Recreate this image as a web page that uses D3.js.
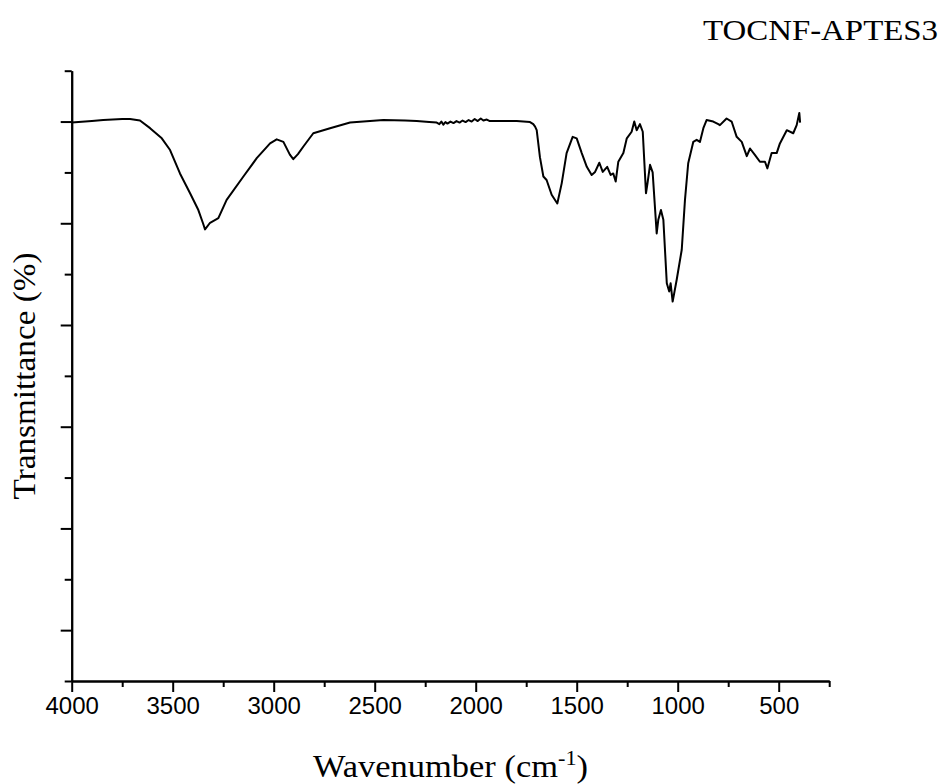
<!DOCTYPE html>
<html>
<head>
<meta charset="utf-8">
<script src="https://cdn.jsdelivr.net/npm/d3@7"></script>
<style>
  body { margin: 0; background: #fff; }
  svg { display: block; }
</style>
</head>
<body>
<svg id="chart" width="941" height="784"></svg>
<script>
// FTIR spectrum
const wavenumber = [4000, 3900, 3844, 3750, 3711, 3662, 3612, 3554, 3513, 3464, 3414, 3373, 3350, 3340, 3315, 3274, 3233, 3150, 3084, 3018,
  2985, 2952, 2920, 2903, 2880, 2853, 2804, 2721, 2622, 2457, 2350, 2292, 2230, 2193, 2180, 2170, 2160, 2150, 2140, 2125,
  2110, 2095, 2080, 2065, 2050, 2035, 2020, 2005, 1990, 1975, 1962, 1945, 1930, 1880, 1797, 1731, 1715, 1706, 1698, 1682,
  1665, 1649, 1624, 1596, 1574, 1550, 1520, 1500, 1475, 1450, 1426, 1409, 1388, 1371, 1349, 1332, 1319, 1307, 1294, 1269,
  1252, 1228, 1215, 1203, 1187, 1173, 1157, 1149, 1137, 1124, 1104, 1096, 1083, 1071, 1054, 1042, 1035, 1025, 1005, 980,
  964, 948, 923, 906, 890, 873, 857, 824, 799, 791, 758, 733, 708, 683, 658, 642, 617, 593, 568, 556,
  535, 510, 494, 460, 428, 411, 398, 394];
const transmittance = [99.8, 100.1, 100.3, 100.5, 100.5, 100.2, 98.7, 96.7, 94.4, 89.8, 85.9, 82.6, 80.0, 78.8, 80.1, 81.0, 84.6, 89.2, 92.8, 95.7,
  96.5, 96.0, 93.5, 92.6, 93.6, 95.1, 97.7, 98.7, 99.8, 100.3, 100.2, 100.1, 99.9, 99.8, 99.5, 100.0, 99.4, 99.9, 99.6, 100.0,
  99.7, 100.1, 99.8, 100.2, 99.9, 100.3, 100.0, 100.5, 100.1, 100.6, 100.2, 100.4, 100.1, 100.1, 100.1, 99.9, 99.5, 99.0, 98.3, 93.0,
  89.2, 88.5, 85.6, 83.9, 87.9, 93.8, 97.0, 96.7, 93.8, 91.1, 89.5, 90.1, 91.9, 90.1, 91.1, 89.5, 89.8, 88.2, 92.1, 93.8,
  96.7, 98.0, 100.0, 98.3, 99.5, 98.0, 85.9, 88.0, 91.5, 90.0, 78.0, 80.7, 82.6, 80.7, 68.2, 66.6, 68.2, 64.6, 68.9, 74.8,
  84.6, 91.8, 96.0, 96.4, 96.0, 98.7, 100.3, 100.0, 99.5, 99.3, 100.6, 100.0, 97.0, 96.0, 93.2, 94.7, 93.4, 92.1, 92.1, 90.8,
  93.8, 93.8, 95.7, 98.3, 97.7, 99.3, 101.7, 99.8];

const xMajorTicks = [4000, 3500, 3000, 2500, 2000, 1500, 1000, 500];
const xMinorTicks = [3750, 3250, 2750, 2250, 1750, 1250, 750, 250];
const yMajorTicks = [0, 20, 40, 60, 80, 100];
const yMinorTicks = [-10, 10, 30, 50, 70, 90, 110];

const title = "TOCNF-APTES3";

const svg = d3.select("#chart");
const plotLeft = 71.7, plotRight = 829.2, plotTop = 70.7, plotBottom = 681;

const x = d3.scaleLinear().domain([4000, 250]).range([plotLeft, plotRight]);
const y = d3.scaleLinear().domain([-10, 110]).range([plotBottom, plotTop]);

const serif = "'Liberation Serif', 'Times New Roman', serif";
const sans = "'Liberation Sans', Arial, sans-serif";

// x axis: major ticks with labels, then minor ticks
const xAxis = svg.append("g")
  .attr("transform", `translate(0,${plotBottom})`)
  .call(d3.axisBottom(x).tickValues(xMajorTicks).tickSize(11).tickSizeOuter(0).tickPadding(5).tickFormat(d3.format("d")));
svg.append("g")
  .attr("transform", `translate(0,${plotBottom})`)
  .call(d3.axisBottom(x).tickValues(xMinorTicks).tickSize(6).tickSizeOuter(0).tickFormat(""));

// y axis: no labels
svg.append("g")
  .attr("transform", `translate(${plotLeft},0)`)
  .call(d3.axisLeft(y).tickValues(yMajorTicks).tickSize(11).tickSizeOuter(0).tickFormat(""));
svg.append("g")
  .attr("transform", `translate(${plotLeft},0)`)
  .call(d3.axisLeft(y).tickValues(yMinorTicks).tickSize(7).tickSizeOuter(0).tickFormat(""));

svg.selectAll(".domain, .tick line").attr("stroke", "#000").attr("stroke-width", 2);
xAxis.selectAll(".tick text")
  .style("font-family", sans)
  .style("font-size", "24px")
  .attr("fill", "#000");

// spectrum
const points = wavenumber.map((w, i) => [w, transmittance[i]]);
const line = d3.line().x(d => x(d[0])).y(d => y(d[1]));
svg.append("path")
  .datum(points)
  .attr("d", line)
  .attr("fill", "none")
  .attr("stroke", "#000")
  .attr("stroke-width", 2)
  .attr("stroke-linejoin", "round");

// titles (Palatino-like widths, so stretched to the reference lengths)
svg.append("text")
  .attr("x", 938).attr("y", 40)
  .attr("text-anchor", "end")
  .attr("textLength", 235)
  .attr("lengthAdjust", "spacingAndGlyphs")
  .style("font-family", serif)
  .style("font-size", "30px")
  .text(title);

const xLabel = svg.append("text")
  .attr("x", 313).attr("y", 777)
  .attr("textLength", 275)
  .attr("lengthAdjust", "spacingAndGlyphs")
  .style("font-family", serif)
  .style("font-size", "31px");
xLabel.append("tspan").text("Wavenumber (cm");
xLabel.append("tspan").attr("dy", -12).style("font-size", "20px").text("-1");
xLabel.append("tspan").attr("dy", 12).text(")");

svg.append("text")
  .attr("transform", "translate(35,376) rotate(-90)")
  .attr("text-anchor", "middle")
  .attr("textLength", 247)
  .attr("lengthAdjust", "spacingAndGlyphs")
  .style("font-family", serif)
  .style("font-size", "31px")
  .text("Transmittance (%)");
</script>
</body>
</html>
